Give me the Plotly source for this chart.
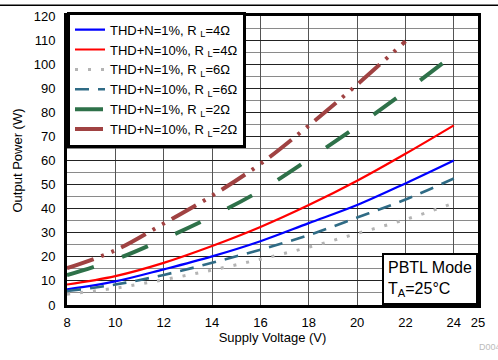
import plotly.graph_objs as go

# supply voltage (V)
volts = [8, 10, 12, 14, 16, 18, 20, 22, 24]
volts_2ohm_10 = [8, 10, 12, 14, 16, 18, 20, 22]

# output power (W)
p_1pct_4ohm = [6.5, 9.8, 14.8, 20.2, 26.5, 34, 41.5, 50.5, 60]
p_10pct_4ohm = [8.5, 12, 17.5, 24.5, 32.4, 41.5, 51.6, 62.8, 74.6]
p_1pct_6ohm = [4.5, 7, 10.5, 14.5, 19, 24, 29.7, 35.5, 42.3]
p_10pct_6ohm = [5.8, 8.5, 12.5, 17.5, 23, 29, 36.3, 43.8, 52.5]
p_1pct_2ohm = [12.4, 18.9, 27.4, 36.8, 47.5, 60.5, 74.2, 88.7, 104]
p_10pct_2ohm = [15.3, 22.7, 33.8, 45.4, 58.6, 74.5, 91.5, 109.5]

x_ticks = [8, 10, 12, 14, 16, 18, 20, 22, 24, 25]

font = "Liberation Sans, Arial, sans-serif"

fig = go.Figure()

series = [
    ("THD+N=1%, R <sub>L</sub>=4Ω", volts, p_1pct_4ohm, "#0000FF", 2.2, "solid"),
    ("THD+N=10%, R <sub>L</sub>=4Ω", volts, p_10pct_4ohm, "#FF0000", 2.2, "solid"),
    ("THD+N=1%, R <sub>L</sub>=6Ω", volts, p_1pct_6ohm, "#B4B4B4", 3, "3px,10px"),
    ("THD+N=10%, R <sub>L</sub>=6Ω", volts, p_10pct_6ohm, "#2F6B85", 2.6, "14px,9px"),
    ("THD+N=1%, R <sub>L</sub>=2Ω", volts, p_1pct_2ohm, "#2E7149", 4, "28px,30px"),
    ("THD+N=10%, R <sub>L</sub>=2Ω", volts_2ohm_10, p_10pct_2ohm, "#A04242", 4,
     "28px,8px,3px,8px,3px,8px"),
]

for name, xs, ys, color, width, dash in series:
    fig.add_trace(go.Scatter(
        x=xs, y=ys, mode="lines", name=name,
        line=dict(color=color, width=width, dash=dash, shape="spline"),
    ))

fig.update_layout(
    width=498, height=360,
    margin=dict(l=67, r=20, t=13, b=55),
    paper_bgcolor="white", plot_bgcolor="white",
    font=dict(family=font, size=13, color="black"),
    showlegend=True,
    legend=dict(
        x=0, y=1.015, xanchor="left", yanchor="top",
        bgcolor="white", bordercolor="black", borderwidth=3,
        font=dict(size=13, color="black"),
        itemwidth=30, tracegroupgap=0,
    ),
    xaxis=dict(
        range=[8, 25], tickvals=x_ticks, ticktext=[str(v) for v in x_ticks],
        showgrid=True, gridcolor="#555555", gridwidth=1,
        showline=True, linecolor="black", linewidth=3, mirror=True,
        ticks="outside", ticklen=3, tickcolor="rgba(0,0,0,0)",
        zeroline=False, automargin=False,
        title=dict(text="Supply Voltage (V)", standoff=3, font=dict(size=13)),
    ),
    yaxis=dict(
        range=[0, 120], dtick=10,
        showgrid=True, gridcolor="#222222", gridwidth=1,
        minor=dict(dtick=5, showgrid=True, gridcolor="#8a8a8a", gridwidth=1),
        showline=True, linecolor="black", linewidth=3, mirror=True,
        ticks="outside", ticklen=6, tickcolor="rgba(0,0,0,0)",
        zeroline=False, automargin=False,
        title=dict(text="Output Power (W)", standoff=9, font=dict(size=13)),
    ),
    shapes=[
        dict(type="line", xref="paper", yref="paper", x0=-0.3, x1=1.1,
             y0=1.037, y1=1.037, line=dict(color="black", width=1.5)),
    ],
    annotations=[
        dict(text="PBTL Mode<br>T<sub>A</sub>=25°C", xref="paper", yref="paper",
             x=1, y=0, xanchor="right", yanchor="bottom", align="left",
             showarrow=False, font=dict(size=16, color="black"),
             bgcolor="white", bordercolor="black", borderwidth=2, borderpad=4),
        dict(text="D004", xref="paper", yref="paper", x=0.997, y=-0.145,
             xanchor="left", yanchor="middle", showarrow=False,
             font=dict(size=9, color="#bbbbbb")),
    ],
)

# drop the page's default body margin so the 498x360 figure fills the window
fig.write_html("out.html", config={"displayModeBar": False},
               post_script="document.body.style.margin='0';")
